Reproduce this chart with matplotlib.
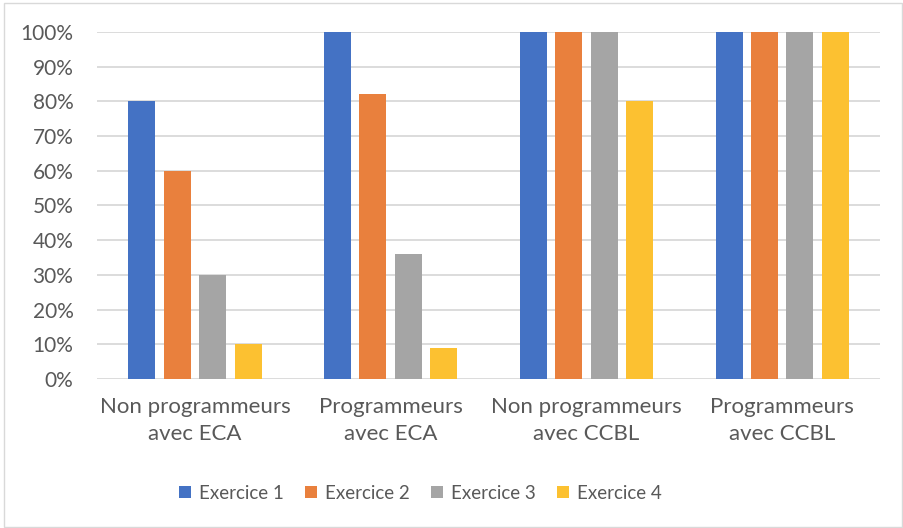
import numpy as np
import matplotlib.pyplot as plt
from matplotlib.patches import Rectangle
from matplotlib.ticker import PercentFormatter

# Data (percent)
groups = ["Non programmeurs\navec ECA", "Programmeurs\navec ECA",
          "Non programmeurs\navec CCBL", "Programmeurs\navec CCBL"]
series_names = ["Exercice 1", "Exercice 2", "Exercice 3", "Exercice 4"]
ex1 = [80, 100, 100, 100]
ex2 = [60, 82, 100, 100]
ex3 = [30, 36, 100, 100]
ex4 = [10, 9, 80, 100]
colors = ["#4472C4", "#E9803D", "#A5A5A5", "#FCC131"]

plt.rcParams['font.family'] = ['Lato', 'DejaVu Sans']

fig = plt.figure(figsize=(9.04, 5.28), dpi=100)
ax = fig.add_axes([0.1073, 0.2822, 0.8662, 0.6572])

x = np.arange(len(groups))
width = 0.138
step = 0.181
for i, (vals, name) in enumerate(zip([ex1, ex2, ex3, ex4], series_names)):
    ax.bar(x + (i - 1.5) * step, vals, width, color=colors[i], label=name, zorder=3)

ax.set_xlim(-0.5, 3.5)
ax.set_ylim(0, 100)
ax.set_yticks(np.arange(0, 101, 10))
ax.yaxis.set_major_formatter(PercentFormatter(decimals=0))
ax.grid(axis='y', color='#D9D9D9', linewidth=1.3, zorder=0)
for s in ax.spines.values():
    s.set_visible(False)
ax.tick_params(axis='both', length=0, colors='#595959')
ax.tick_params(axis='y', labelsize=15, pad=17)
ax.set_xticks(x)
ax.set_xticklabels(groups, fontsize=16, linespacing=1.45)
ax.tick_params(axis='x', pad=13)

fig.legend(loc='center', bbox_to_anchor=(0.465, 0.066), ncol=4, frameon=False,
           fontsize=13.5, handlelength=0.65, handleheight=0.65, handletextpad=0.4,
           columnspacing=1.15, labelcolor='#595959')

fig.patches.append(Rectangle((0.004, 0.002), 0.994, 0.992, transform=fig.transFigure,
                             fill=False, edgecolor='#D9D9D9', linewidth=1))

fig.savefig("out.png", dpi=100)
